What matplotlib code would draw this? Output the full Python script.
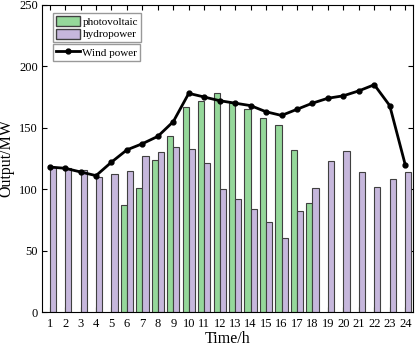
import matplotlib.pyplot as plt
import matplotlib.patches as mpatches
import matplotlib.lines as mlines
import numpy as np

plt.rcParams['font.family'] = ['Liberation Serif', 'DejaVu Serif']

hours = list(range(1, 25))
photovoltaic = [0, 0, 0, 0, 0, 87, 101, 124, 143, 167, 172, 178,
                170, 165, 158, 152, 132, 89, 0, 0, 0, 0, 0, 0]
hydropower = [118, 117, 116, 110, 112, 115, 127, 130, 134, 133, 121, 100,
              92, 84, 73, 60, 82, 101, 123, 131, 114, 102, 108, 114]
wind = [118, 117, 114, 111, 122, 132, 137, 143, 155, 178, 175, 172,
        170, 168, 163, 160, 165, 170, 174, 176, 180, 185, 168, 120]

green = '#95d89a'
purple = '#c6b7dc'
edge = '#404040'

fig = plt.figure(figsize=(4.15, 3.49), dpi=100)
ax = fig.add_axes([0.101, 0.106, 0.894, 0.880])

x = np.array(hours)
w = 0.4
pv_idx = [i for i, v in enumerate(photovoltaic) if v > 0]
ax.bar(x[pv_idx] - w / 2, [photovoltaic[i] for i in pv_idx], width=w,
       color=green, edgecolor=edge, linewidth=0.8, zorder=2)
ax.bar(x + w / 2, hydropower, width=w, color=purple, edgecolor=edge,
       linewidth=0.8, zorder=2)
ax.plot(x, wind, '-', color='black', linewidth=2, marker='o', markersize=3.5,
        zorder=3)

ax.set_xlim(0.5, 24.5)
ax.set_ylim(0, 250)
ax.set_xticks(hours)
ax.set_yticks([0, 50, 100, 150, 200, 250])
ax.tick_params(direction='in', top=True, right=True, labelsize=9,
               length=3.5, width=0.8)
ax.tick_params(axis='x', pad=4)
ax.tick_params(axis='y', pad=3)
ax.set_xlabel('Time/h', fontsize=11.5, labelpad=1)
ax.set_ylabel('Output/MW', fontsize=11.5, labelpad=3)

h1 = mpatches.Patch(facecolor=green, edgecolor=edge, label='photovoltaic')
h2 = mpatches.Patch(facecolor=purple, edgecolor=edge, label='hydropower')
h3 = mlines.Line2D([], [], color='black', linewidth=2, marker='o',
                   markersize=3.5, label='Wind power')
leg_kw = dict(loc='upper left', fontsize=8, fancybox=False,
              edgecolor='#999999', framealpha=1, borderpad=0.25,
              handlelength=2.2, handleheight=1.0, handletextpad=0.2,
              labelspacing=0.15, borderaxespad=0)
leg1 = ax.legend(handles=[h1, h2], bbox_to_anchor=(0.03, 0.972), **leg_kw)
ax.add_artist(leg1)
ax.legend(handles=[h3], bbox_to_anchor=(0.03, 0.872), **leg_kw)

fig.savefig('out.png', dpi=100)
